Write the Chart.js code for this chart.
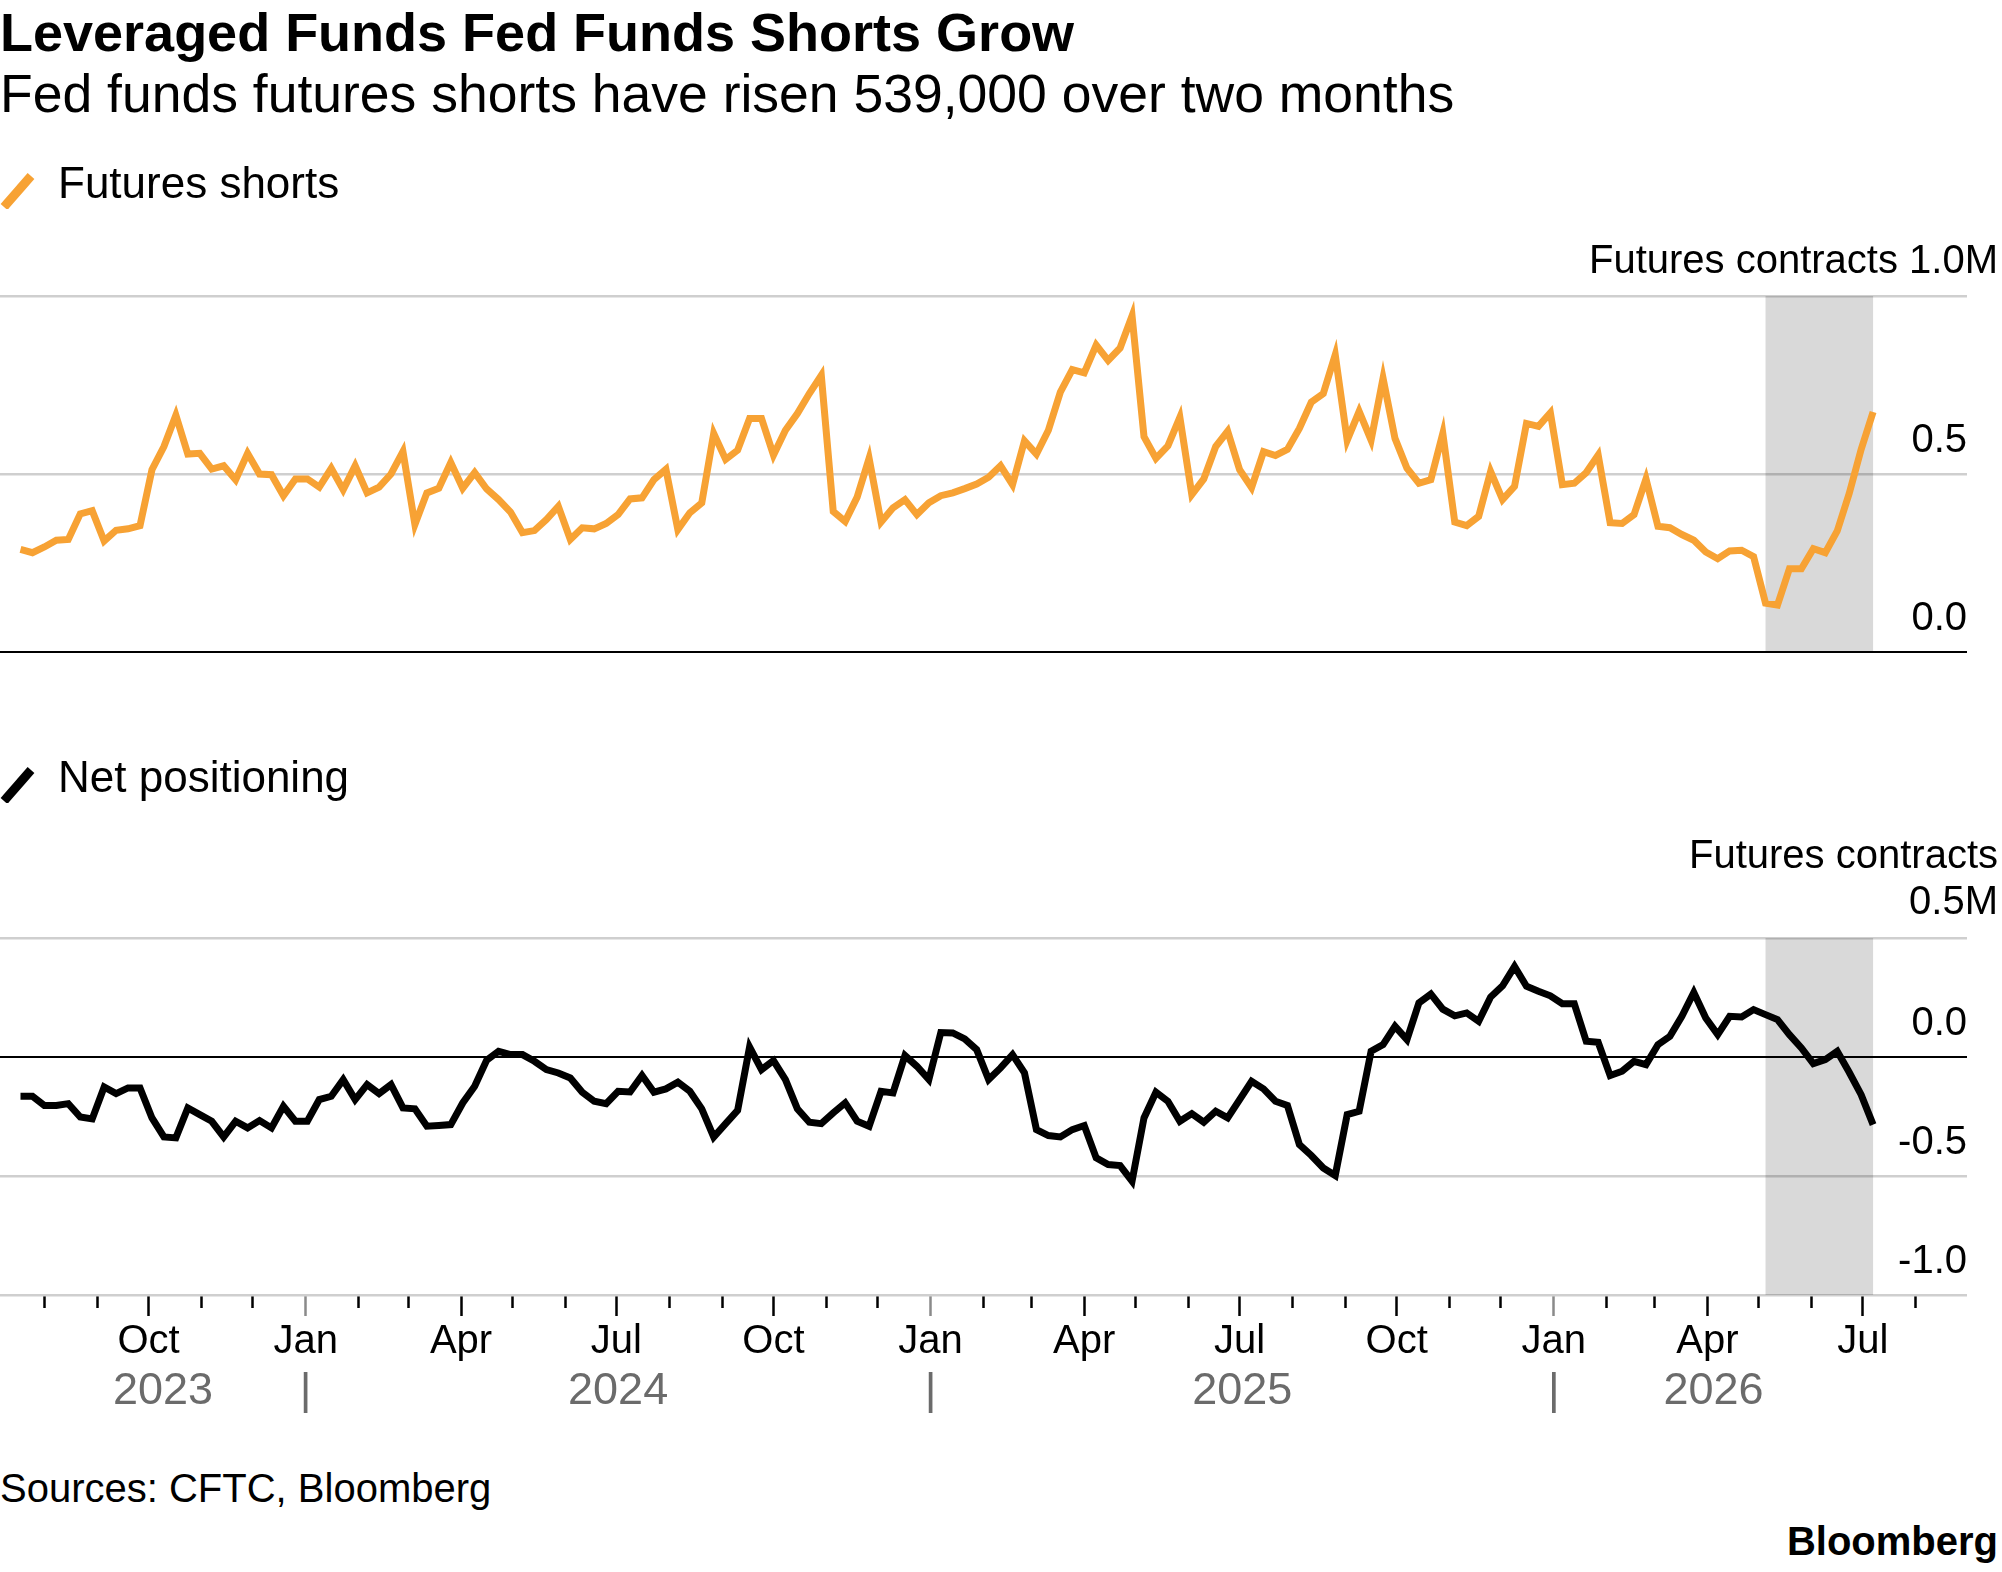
<!DOCTYPE html>
<html>
<head>
<meta charset="utf-8">
<script src="https://cdn.jsdelivr.net/npm/chart.js@4.4.1/dist/chart.umd.min.js"></script>
<style>
html,body{margin:0;padding:0;background:#fff;}
body{width:2002px;height:1572px;position:relative;overflow:hidden;font-family:'Liberation Sans',Arial,sans-serif;color:#000;}
.t{position:absolute;white-space:nowrap;line-height:1;}
#title{left:0;top:5px;font-size:54px;font-weight:bold;}
#subtitle{left:0;top:67px;font-size:53.5px;}
#source{left:0;top:1468px;font-size:40px;}
#logo{right:4px;top:1521px;font-size:40px;font-weight:bold;}
.box{position:absolute;left:0;width:2002px;}
#box1{top:150px;height:532px;}
#box2{top:744px;height:681px;}
</style>
</head>
<body>
<div class="t" id="title">Leveraged Funds Fed Funds Shorts Grow</div>
<div class="t" id="subtitle">Fed funds futures shorts have risen 539,000 over two months</div>
<div class="box" id="box1"><canvas id="c1"></canvas></div>
<div class="box" id="box2"><canvas id="c2"></canvas></div>
<div class="t" id="source">Sources: CFTC, Bloomberg</div>
<div class="t" id="logo">Bloomberg</div>
<script>
// ---------------- data ----------------
const startDate = '2023-07-18';            // first weekly observation (CFTC, Tuesdays)
const axisRange = ['2023-07-06', '2026-08-31'];
const shadeRange = ['2026-05-05', '2026-07-07'];
const monthLabels = ['Jan', '', '', 'Apr', '', '', 'Jul', '', '', 'Oct', '', ''];
const yearLabels = ['2023', '2024', '2025', '2026'];
const seriesNames = ['Futures shorts', 'Net positioning'];

// Leveraged funds fed funds futures shorts, millions of contracts (weekly)
const shorts = [
  0.288, 0.279, 0.295, 0.314, 0.316, 0.388, 0.397, 0.312, 0.342, 0.346,
  0.355, 0.512, 0.577, 0.665, 0.556, 0.558, 0.514, 0.523, 0.484, 0.558,
  0.500, 0.498, 0.439, 0.486, 0.486, 0.463, 0.516, 0.456, 0.523, 0.447,
  0.463, 0.500, 0.563, 0.358, 0.447, 0.460, 0.532, 0.460, 0.504, 0.458,
  0.428, 0.393, 0.335, 0.341, 0.372, 0.409, 0.316, 0.349, 0.346, 0.361,
  0.386, 0.430, 0.433, 0.484, 0.513, 0.344, 0.391, 0.419, 0.614, 0.541,
  0.567, 0.656, 0.656, 0.553, 0.623, 0.670, 0.726, 0.777, 0.395, 0.367,
  0.435, 0.544, 0.365, 0.405, 0.428, 0.386, 0.419, 0.439, 0.447, 0.459,
  0.472, 0.491, 0.523, 0.470, 0.593, 0.556, 0.623, 0.730, 0.793, 0.784,
  0.862, 0.819, 0.854, 0.944, 0.605, 0.544, 0.579, 0.659, 0.442, 0.486,
  0.577, 0.620, 0.512, 0.462, 0.563, 0.552, 0.569, 0.628, 0.702, 0.726,
  0.835, 0.595, 0.676, 0.595, 0.769, 0.600, 0.516, 0.474, 0.484, 0.614,
  0.365, 0.355, 0.381, 0.507, 0.428, 0.465, 0.642, 0.634, 0.672, 0.470,
  0.474, 0.504, 0.553, 0.363, 0.361, 0.386, 0.486, 0.353, 0.349, 0.330,
  0.314, 0.281, 0.262, 0.284, 0.286, 0.268, 0.137, 0.132, 0.234, 0.234,
  0.290, 0.279, 0.340, 0.445, 0.569, 0.674
];

// Net positioning, millions of contracts (weekly)
const net = [
  -0.165, -0.165, -0.204, -0.204, -0.196, -0.252, -0.260, -0.126, -0.154, -0.130,
  -0.130, -0.256, -0.336, -0.340, -0.214, -0.242, -0.270, -0.336, -0.270, -0.298,
  -0.267, -0.298, -0.207, -0.270, -0.270, -0.179, -0.165, -0.095, -0.179, -0.116,
  -0.154, -0.116, -0.214, -0.218, -0.291, -0.288, -0.284, -0.193, -0.123, -0.014,
   0.024,  0.010,  0.010, -0.018, -0.053, -0.067, -0.088, -0.148, -0.186, -0.196,
  -0.144, -0.147, -0.078, -0.148, -0.134, -0.106, -0.144, -0.218, -0.336, -0.280,
  -0.224,  0.042, -0.053, -0.015, -0.095, -0.218, -0.274, -0.280, -0.235, -0.193,
  -0.270, -0.291, -0.144, -0.151,  0.006, -0.039, -0.095,  0.103,  0.101,  0.076,
   0.031, -0.095, -0.046,  0.010, -0.067, -0.305, -0.330, -0.336, -0.305, -0.288,
  -0.424, -0.452, -0.456, -0.522, -0.256, -0.148, -0.186, -0.270, -0.238, -0.274,
  -0.228, -0.256, -0.179, -0.102, -0.134, -0.186, -0.204, -0.368, -0.414, -0.466,
  -0.498, -0.242, -0.228,  0.024,  0.052,  0.129,  0.073,  0.227,  0.264,  0.201,
   0.173,  0.185,  0.150,  0.252,  0.299,  0.380,  0.297,  0.276,  0.257,  0.224,
   0.224,  0.066,  0.062, -0.078, -0.060, -0.018, -0.032,  0.052,  0.087,  0.171,
   0.271,  0.164,  0.094,  0.171,  0.168,  0.199,  0.178,  0.157,  0.094,  0.038,
  -0.028, -0.011,  0.024, -0.064, -0.158, -0.284
];

// ---------------- helpers ----------------
const FONT = "'Liberation Sans', Arial, sans-serif";
const DAY = 86400000;
function utc(s) { const p = s.split('-').map(Number); return Date.UTC(p[0], p[1] - 1, p[2]); }
const base = utc(startDate);
function dayNum(s) { return (utc(s) - base) / DAY; }
const xMin = dayNum(axisRange[0]);
const xMax = dayNum(axisRange[1]);
const lastDay = 7 * (shorts.length - 1);

function toPoints(arr) { return arr.map((v, i) => ({x: 7 * i, y: v})); }

// month ticks
const monthTicks = [];
for (let y = 2023; y <= 2026; y++) {
  for (let m = 0; m < 12; m++) {
    const v = (Date.UTC(y, m, 1) - base) / DAY;
    if (v >= xMin && v <= xMax) monthTicks.push({value: v, month: m});
  }
}
// year ticks: separators at Jan 1 and labels centred on each year's span of data
const yearTicks = [];
yearLabels.forEach((lab) => {
  const y = Number(lab);
  const jan = (Date.UTC(y, 0, 1) - base) / DAY;
  const next = (Date.UTC(y + 1, 0, 1) - base) / DAY;
  if (jan > xMin && jan < xMax) yearTicks.push({value: jan, label: '|'});
  const lo = Math.max(0, jan), hi = Math.min(lastDay, next);
  if (hi > lo) yearTicks.push({value: (lo + hi) / 2, label: lab});
});
yearTicks.sort((a, b) => a.value - b.value);

function slash(color) {
  const c = document.createElement('canvas');
  c.width = 46; c.height = 46;
  const g = c.getContext('2d');
  g.strokeStyle = color; g.lineWidth = 9; g.lineCap = 'butt';
  g.beginPath(); g.moveTo(4, 44); g.lineTo(31, 13); g.stroke();
  return c;
}

const shadePlugin = {
  id: 'shade',
  beforeDatasetsDraw(chart) {
    const {ctx, chartArea, scales} = chart;
    const x = scales.x;
    const x0 = x.getPixelForValue(dayNum(shadeRange[0]));
    const x1 = x.getPixelForValue(dayNum(shadeRange[1]));
    ctx.save();
    ctx.fillStyle = 'rgba(0,0,0,0.15)';
    ctx.fillRect(x0, chartArea.top, x1 - x0, chartArea.bottom - chartArea.top);
    ctx.restore();
  }
};

function yScale(min, max) {
  const vals = [];
  for (let v = min; v <= max + 1e-9; v += 0.5) vals.push(Math.round(v * 10) / 10);
  return {
    type: 'linear', position: 'right', min: min, max: max,
    afterBuildTicks: (s) => { s.ticks = vals.map(v => ({value: v})); },
    border: {display: false},
    grid: {
      drawTicks: true, tickLength: 31, tickColor: 'rgba(0,0,0,0)',
      color: (c) => (c.tick && c.tick.value === 0) ? '#000000' : '#cfcfcf',
      lineWidth: (c) => (c.tick && c.tick.value === 0) ? 2 : 2.5
    },
    ticks: {
      mirror: true, padding: 0, labelOffset: -33, autoSkip: false,
      color: '#000', font: {family: FONT, size: 40},
      callback: (v) => (Math.abs(v - max) < 1e-9) ? '' : v.toFixed(1)
    }
  };
}

function legendOpts(color) {
  return {
    display: true, position: 'top', align: 'start', weight: 3000,
    labels: {
      usePointStyle: true, pointStyle: slash(color), boxWidth: 26, padding: 10,
      color: '#000', font: {family: FONT, size: 44}
    }
  };
}

function titleOpts(text, lh, pad) {
  return {
    display: true, text: text, align: 'end', color: '#000',
    font: {family: FONT, size: 40, weight: 'normal', lineHeight: lh},
    padding: pad
  };
}

// ---------------- top chart ----------------
new Chart(document.getElementById('c1'), {
  type: 'line',
  data: {datasets: [{
    label: seriesNames[0], data: toPoints(shorts),
    borderColor: '#f7a234', backgroundColor: '#f7a234', borderWidth: 7,
    pointRadius: 0, tension: 0, fill: false
  }]},
  options: {
    responsive: true, maintainAspectRatio: false, animation: false, devicePixelRatio: 1,
    layout: {padding: {top: 4, right: 4, left: 0, bottom: 30}},
    plugins: {
      legend: legendOpts('#f7a234'),
      title: titleOpts('Futures contracts 1.0M', 1.2, {top: 20, bottom: 10}),
      tooltip: {enabled: false}
    },
    scales: {
      x: {type: 'linear', min: xMin, max: xMax, display: false},
      y: yScale(0, 1)
    }
  },
  plugins: [shadePlugin]
});

// ---------------- bottom chart ----------------
new Chart(document.getElementById('c2'), {
  type: 'line',
  data: {datasets: [{
    label: seriesNames[1], data: toPoints(net),
    borderColor: '#000000', backgroundColor: '#000000', borderWidth: 7,
    pointRadius: 0, tension: 0, fill: false
  }]},
  options: {
    responsive: true, maintainAspectRatio: false, animation: false, devicePixelRatio: 1,
    layout: {padding: {top: 4, right: 4, left: 0, bottom: 10}},
    plugins: {
      legend: legendOpts('#000000'),
      title: titleOpts(['Futures contracts', '0.5M'], 1.15, {top: 22, bottom: 12}),
      tooltip: {enabled: false}
    },
    scales: {
      x: {
        type: 'linear', position: 'bottom', min: xMin, max: xMax, weight: 0,
        afterBuildTicks: (s) => { s.ticks = monthTicks.map(t => ({value: t.value})); },
        border: {display: false},
        grid: {
          display: true, drawOnChartArea: false, drawTicks: true, tickLength: 21,
          tickWidth: 2.5,
          tickColor: (c) => (monthTicks[c.index] && monthTicks[c.index].month === 0) ? '#8a8a8a' : '#000000',
          tickBorderDash: (c) => (monthTicks[c.index] && monthTicks[c.index].month % 3 === 0) ? [] : [13, 60]
        },
        ticks: {
          autoSkip: false, maxRotation: 0, minRotation: 0, padding: 2,
          color: '#000', font: {family: FONT, size: 40},
          callback: (v, i) => monthTicks[i] ? monthLabels[monthTicks[i].month] : ''
        }
      },
      x2: {
        type: 'linear', position: 'bottom', min: xMin, max: xMax, weight: 1,
        afterBuildTicks: (s) => { s.ticks = yearTicks.map(t => ({value: t.value})); },
        border: {display: false},
        grid: {display: false, drawTicks: false},
        ticks: {
          autoSkip: false, maxRotation: 0, minRotation: 0, padding: 1,
          color: '#6b6b6b', font: {family: FONT, size: 45, lineHeight: 1},
          callback: (v, i) => yearTicks[i] ? yearTicks[i].label : ''
        }
      },
      y: yScale(-1, 0.5)
    }
  },
  plugins: [shadePlugin]
});
</script>
</body>
</html>
